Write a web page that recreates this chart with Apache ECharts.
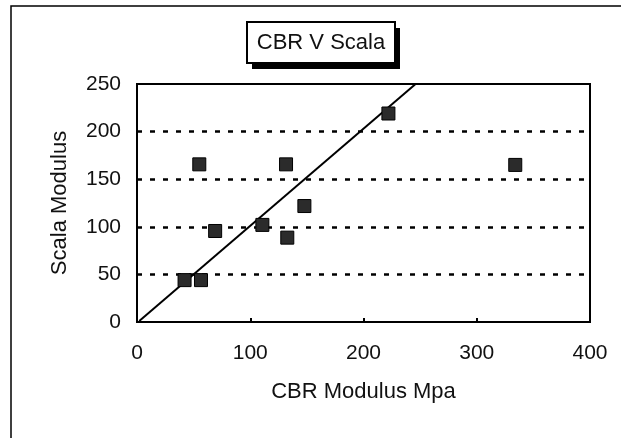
<!DOCTYPE html>
<html>
<head>
<meta charset="utf-8">
<script src="https://cdn.jsdelivr.net/npm/echarts@6/dist/echarts.min.js"></script>
<style>
html,body{margin:0;padding:0;background:#fff;}
#c{width:621px;height:438px;}
</style>
</head>
<body>
<div id="c"></div>
<script>
// Data
const cbrModulus   = [42, 56.5, 55, 69, 110.7, 131.6, 132.7, 147.8, 222, 334];
const scalaModulus = [44, 44, 165.6, 95.6, 102, 165.6, 88.6, 121.8, 219, 165];
const trendX = [2, 246];
const trendY = [1, 250];
const xTicks = [0, 100, 200, 300, 400];
const yTicks = [0, 50, 100, 150, 200, 250];
const chartTitle = 'CBR V Scala';
const xName = 'CBR Modulus Mpa';
const yName = 'Scala Modulus';

const points = cbrModulus.map((x, i) => [x, scalaModulus[i]]);
const trend = trendX.map((x, i) => [x, trendY[i]]);
const FONT = '"Liberation Sans", Arial, sans-serif';

const chart = echarts.init(document.getElementById('c'), null, {renderer: 'canvas'});
chart.setOption({
  backgroundColor: '#fff',
  animation: false,
  grid: {left: 137, right: 31, top: 84, bottom: 116, show: false},
  xAxis: {
    type: 'value', min: xTicks[0], max: xTicks[xTicks.length - 1], interval: 100,
    name: xName, nameLocation: 'middle', nameGap: 59,
    nameTextStyle: {fontFamily: FONT, fontSize: 22, color: '#111'},
    axisLine: {show: true, onZero: false, lineStyle: {color: '#000', width: 2}},
    axisTick: {show: true, inside: true, length: 4, lineStyle: {color: '#000', width: 2}},
    axisLabel: {fontFamily: FONT, fontSize: 21, color: '#111', margin: 21},
    splitLine: {show: false}
  },
  yAxis: {
    type: 'value', min: yTicks[0], max: yTicks[yTicks.length - 1], interval: 50,
    name: yName, nameLocation: 'middle', nameGap: 66,
    nameTextStyle: {fontFamily: FONT, fontSize: 22, color: '#111'},
    axisLine: {show: true, onZero: false, lineStyle: {color: '#000', width: 2}},
    axisTick: {show: false},
    axisLabel: {fontFamily: FONT, fontSize: 21, color: '#111', margin: 16},
    splitLine: {show: true, showMinLine: false, showMaxLine: false, lineStyle: {color: '#000', width: 2.5, type: [5, 8]}}
  },
  graphic: [
    {type: 'rect', shape: {x: 11, y: 6, width: 640, height: 460}, style: {fill: 'none', stroke: '#000', lineWidth: 1.5}, z: -10},
    {type: 'rect', shape: {x: 137, y: 84, width: 453, height: 238}, style: {fill: 'none', stroke: '#000', lineWidth: 2}, z: 10},
    {type: 'rect', shape: {x: 252, y: 28, width: 148, height: 41}, style: {fill: '#000'}, z: 10},
    {type: 'rect', shape: {x: 247, y: 22, width: 148, height: 41}, style: {fill: '#fff', stroke: '#000', lineWidth: 2}, z: 11},
    {type: 'text', x: 321, y: 43, style: {text: chartTitle, font: '22px ' + FONT, fill: '#111', textAlign: 'center', textVerticalAlign: 'middle'}, z: 12}
  ],
  series: [
    {
      type: 'line', data: trend, showSymbol: false, symbol: 'none',
      lineStyle: {color: '#000', width: 2}, z: 3
    },
    {
      type: 'scatter', data: points, symbol: 'rect', symbolSize: 13,
      itemStyle: {color: '#2b2b2b', borderColor: '#000', borderWidth: 1, opacity: 1}, z: 4
    }
  ]
});
</script>
</body>
</html>
